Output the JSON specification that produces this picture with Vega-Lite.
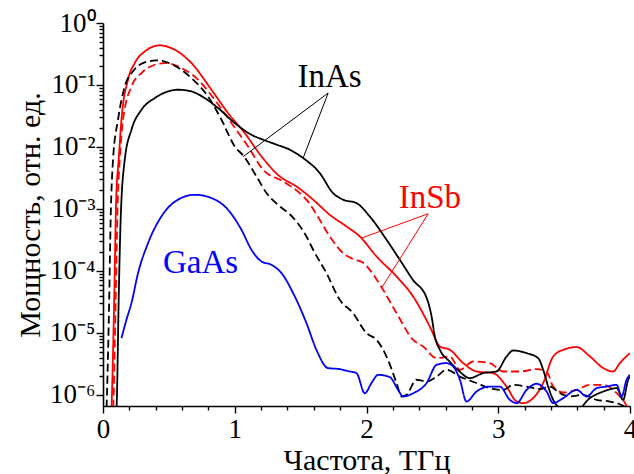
{
  "$schema": "https://vega.github.io/schema/vega-lite/v6.json",
  "width": 527,
  "height": 383,
  "autosize": {"type": "none"},
  "padding": {"left": 103, "top": 23, "right": 4, "bottom": 68},
  "background": "white",
  "config": {
    "view": {"stroke": null},
    "axis": {
      "grid": false, "domainColor": "#000", "domainWidth": 1.6, "tickColor": "#000", "tickWidth": 1.4,
      "labelColor": "#000", "titleColor": "#000", "labelFont": "Liberation Serif", "titleFont": "Liberation Serif",
      "labelFontSize": 27, "titleFontSize": 30, "titleFontWeight": "normal", "labelFlush": false
    },
    "text": {"font": "Liberation Serif"}
  },
  "datasets": {
    "curves": [
      {"m":"InSb","k":"solid","x":0.062,"y":4.0e-7},{"m":"InSb","k":"solid","x":0.068,"y":1e-6},{"m":"InSb","k":"solid","x":0.085,"y":3.39e-5},{"m":"InSb","k":"solid","x":0.100,"y":1.41e-3},{"m":"InSb","k":"solid","x":0.119,"y":6.21e-3},{"m":"InSb","k":"solid","x":0.140,"y":2.75e-2},{"m":"InSb","k":"solid","x":0.190,"y":1.22e-1},{"m":"InSb","k":"solid","x":0.241,"y":2.26e-1},{"m":"InSb","k":"solid","x":0.317,"y":3.48e-1},{"m":"InSb","k":"solid","x":0.431,"y":4.35e-1},{"m":"InSb","k":"solid","x":0.544,"y":3.71e-1},{"m":"InSb","k":"solid","x":0.671,"y":2.26e-1},{"m":"InSb","k":"solid","x":0.823,"y":8.38e-2},{"m":"InSb","k":"solid","x":0.949,"y":3.52e-2},{"m":"InSb","k":"solid","x":1.076,"y":1.67e-2},{"m":"InSb","k":"solid","x":1.203,"y":7.03e-3},{"m":"InSb","k":"solid","x":1.342,"y":3.34e-3},{"m":"InSb","k":"solid","x":1.469,"y":2.30e-3},{"m":"InSb","k":"solid","x":1.595,"y":1.41e-3},{"m":"InSb","k":"solid","x":1.721,"y":8.05e-4},{"m":"InSb","k":"solid","x":1.848,"y":5.21e-4},{"m":"InSb","k":"solid","x":1.949,"y":3.59e-4},{"m":"InSb","k":"solid","x":2.076,"y":1.71e-4},{"m":"InSb","k":"solid","x":2.228,"y":8.13e-5},{"m":"InSb","k":"solid","x":2.354,"y":3.86e-5},{"m":"InSb","k":"solid","x":2.481,"y":1.26e-5},{"m":"InSb","k":"solid","x":2.557,"y":6.03e-6},{"m":"InSb","k":"solid","x":2.633,"y":5.32e-6},{"m":"InSb","k":"solid","x":2.734,"y":3.25e-6},{"m":"InSb","k":"solid","x":2.835,"y":2.38e-6},{"m":"InSb","k":"solid","x":2.961,"y":2.24e-6},{"m":"InSb","k":"solid","x":3.063,"y":1.36e-6},{"m":"InSb","k":"solid","x":3.139,"y":7.80e-7},{"m":"InSb","k":"solid","x":3.189,"y":7.35e-7},{"m":"InSb","k":"solid","x":3.265,"y":8.85e-7},{"m":"InSb","k":"solid","x":3.341,"y":1.55e-6},{"m":"InSb","k":"solid","x":3.417,"y":4.15e-6},{"m":"InSb","k":"solid","x":3.493,"y":5.32e-6},{"m":"InSb","k":"solid","x":3.595,"y":5.89e-6},{"m":"InSb","k":"solid","x":3.696,"y":4.15e-6},{"m":"InSb","k":"solid","x":3.797,"y":2.70e-6},{"m":"InSb","k":"solid","x":3.872,"y":2.38e-6},{"m":"InSb","k":"solid","x":3.923,"y":3.25e-6},{"m":"InSb","k":"solid","x":3.999,"y":4.71e-6},

      {"m":"InSb","k":"dashed","x":0.074,"y":4e-7},{"m":"InSb","k":"dashed","x":0.081,"y":1e-6},{"m":"InSb","k":"dashed","x":0.096,"y":3.39e-5},{"m":"InSb","k":"dashed","x":0.112,"y":1.41e-3},{"m":"InSb","k":"dashed","x":0.127,"y":6.21e-3},{"m":"InSb","k":"dashed","x":0.152,"y":2.75e-2},{"m":"InSb","k":"dashed","x":0.216,"y":9.48e-2},{"m":"InSb","k":"dashed","x":0.292,"y":1.56e-1},{"m":"InSb","k":"dashed","x":0.393,"y":2.12e-1},{"m":"InSb","k":"dashed","x":0.468,"y":2.26e-1},{"m":"InSb","k":"dashed","x":0.595,"y":1.88e-1},{"m":"InSb","k":"dashed","x":0.721,"y":1.22e-1},{"m":"InSb","k":"dashed","x":0.848,"y":5.78e-2},{"m":"InSb","k":"dashed","x":0.975,"y":2.43e-2},{"m":"InSb","k":"dashed","x":1.101,"y":1.02e-2},{"m":"InSb","k":"dashed","x":1.215,"y":4.29e-3},{"m":"InSb","k":"dashed","x":1.367,"y":2.77e-3},{"m":"InSb","k":"dashed","x":1.494,"y":1.80e-3},{"m":"InSb","k":"dashed","x":1.544,"y":1.41e-3},{"m":"InSb","k":"dashed","x":1.645,"y":6.68e-4},{"m":"InSb","k":"dashed","x":1.721,"y":3.59e-4},{"m":"InSb","k":"dashed","x":1.822,"y":1.94e-4},{"m":"InSb","k":"dashed","x":1.898,"y":1.55e-4},{"m":"InSb","k":"dashed","x":1.974,"y":1.35e-4},{"m":"InSb","k":"dashed","x":2.025,"y":1.04e-4},{"m":"InSb","k":"dashed","x":2.126,"y":4.95e-5},{"m":"InSb","k":"dashed","x":2.228,"y":2.08e-5},{"m":"InSb","k":"dashed","x":2.354,"y":7.73e-6},{"m":"InSb","k":"dashed","x":2.430,"y":6.03e-6},{"m":"InSb","k":"dashed","x":2.532,"y":3.91e-6},{"m":"InSb","k":"dashed","x":2.633,"y":4.15e-6},{"m":"InSb","k":"dashed","x":2.709,"y":2.54e-6},{"m":"InSb","k":"dashed","x":2.810,"y":3.45e-6},{"m":"InSb","k":"dashed","x":2.936,"y":3.25e-6},{"m":"InSb","k":"dashed","x":3.037,"y":2.38e-6},{"m":"InSb","k":"dashed","x":3.164,"y":2.38e-6},{"m":"InSb","k":"dashed","x":3.291,"y":2.60e-6},{"m":"InSb","k":"dashed","x":3.367,"y":2.38e-6},{"m":"InSb","k":"dashed","x":3.417,"y":1.36e-6},{"m":"InSb","k":"dashed","x":3.493,"y":1.09e-6},{"m":"InSb","k":"dashed","x":3.595,"y":1.20e-6},{"m":"InSb","k":"dashed","x":3.696,"y":1.45e-6},{"m":"InSb","k":"dashed","x":3.797,"y":1.45e-6},{"m":"InSb","k":"dashed","x":3.872,"y":1.20e-6},{"m":"InSb","k":"dashed","x":3.923,"y":9.39e-7},{"m":"InSb","k":"dashed","x":3.974,"y":6.64e-7},{"m":"InSb","k":"dashed","x":3.999,"y":4.8e-7},

      {"m":"InAs","k":"dashed","x":0.024,"y":4e-7},{"m":"InAs","k":"dashed","x":0.030,"y":1e-6},{"m":"InAs","k":"dashed","x":0.047,"y":3.39e-5},{"m":"InAs","k":"dashed","x":0.058,"y":6.68e-4},{"m":"InAs","k":"dashed","x":0.076,"y":6.21e-3},{"m":"InAs","k":"dashed","x":0.114,"y":2.75e-2},{"m":"InAs","k":"dashed","x":0.165,"y":9.48e-2},{"m":"InAs","k":"dashed","x":0.228,"y":1.66e-1},{"m":"InAs","k":"dashed","x":0.317,"y":2.31e-1},{"m":"InAs","k":"dashed","x":0.405,"y":2.49e-1},{"m":"InAs","k":"dashed","x":0.519,"y":2.18e-1},{"m":"InAs","k":"dashed","x":0.671,"y":1.29e-1},{"m":"InAs","k":"dashed","x":0.797,"y":6.53e-2},{"m":"InAs","k":"dashed","x":0.899,"y":2.75e-2},{"m":"InAs","k":"dashed","x":1.0,"y":1.02e-2},{"m":"InAs","k":"dashed","x":1.07,"y":7.03e-3},{"m":"InAs","k":"dashed","x":1.165,"y":3.34e-3},{"m":"InAs","k":"dashed","x":1.241,"y":1.80e-3},{"m":"InAs","k":"dashed","x":1.342,"y":1.10e-3},{"m":"InAs","k":"dashed","x":1.418,"y":8.2e-4},{"m":"InAs","k":"dashed","x":1.544,"y":3.59e-4},{"m":"InAs","k":"dashed","x":1.595,"y":2.19e-4},{"m":"InAs","k":"dashed","x":1.696,"y":9.21e-5},{"m":"InAs","k":"dashed","x":1.797,"y":3.41e-5},{"m":"InAs","k":"dashed","x":1.898,"y":2.08e-5},{"m":"InAs","k":"dashed","x":2.0,"y":9.9e-6},{"m":"InAs","k":"dashed","x":2.076,"y":7.73e-6},{"m":"InAs","k":"dashed","x":2.152,"y":4.15e-6},{"m":"InAs","k":"dashed","x":2.228,"y":1.55e-6},{"m":"InAs","k":"dashed","x":2.266,"y":9.39e-7},{"m":"InAs","k":"dashed","x":2.304,"y":1e-6},{"m":"InAs","k":"dashed","x":2.380,"y":1.75e-6},{"m":"InAs","k":"dashed","x":2.456,"y":1.64e-6},{"m":"InAs","k":"dashed","x":2.532,"y":1.97e-6},{"m":"InAs","k":"dashed","x":2.607,"y":2.54e-6},{"m":"InAs","k":"dashed","x":2.709,"y":1.97e-6},{"m":"InAs","k":"dashed","x":2.835,"y":1.55e-6},{"m":"InAs","k":"dashed","x":2.936,"y":1.28e-6},{"m":"InAs","k":"dashed","x":3.037,"y":1.20e-6},{"m":"InAs","k":"dashed","x":3.113,"y":1.45e-6},{"m":"InAs","k":"dashed","x":3.215,"y":1.36e-6},{"m":"InAs","k":"dashed","x":3.316,"y":1.24e-6},{"m":"InAs","k":"dashed","x":3.392,"y":1.36e-6},{"m":"InAs","k":"dashed","x":3.468,"y":1.06e-6},{"m":"InAs","k":"dashed","x":3.544,"y":9.39e-7},{"m":"InAs","k":"dashed","x":3.645,"y":1e-6},{"m":"InAs","k":"dashed","x":3.746,"y":8.30e-7},{"m":"InAs","k":"dashed","x":3.847,"y":7.80e-7},{"m":"InAs","k":"dashed","x":3.948,"y":6.64e-7},{"m":"InAs","k":"dashed","x":3.999,"y":5.3e-7},

      {"m":"InAs","k":"solid","x":0.100,"y":4e-7},{"m":"InAs","k":"solid","x":0.106,"y":1e-6},{"m":"InAs","k":"solid","x":0.119,"y":3.39e-5},{"m":"InAs","k":"solid","x":0.134,"y":6.68e-4},{"m":"InAs","k":"solid","x":0.165,"y":6.21e-3},{"m":"InAs","k":"solid","x":0.216,"y":1.90e-2},{"m":"InAs","k":"solid","x":0.292,"y":3.98e-2},{"m":"InAs","k":"solid","x":0.393,"y":6.15e-2},{"m":"InAs","k":"solid","x":0.494,"y":7.87e-2},{"m":"InAs","k":"solid","x":0.569,"y":8.38e-2},{"m":"InAs","k":"solid","x":0.671,"y":7.87e-2},{"m":"InAs","k":"solid","x":0.772,"y":6.15e-2},{"m":"InAs","k":"solid","x":0.873,"y":4.25e-2},{"m":"InAs","k":"solid","x":1.0,"y":2.43e-2},{"m":"InAs","k":"solid","x":1.127,"y":1.57e-2},{"m":"InAs","k":"solid","x":1.215,"y":1.31e-2},{"m":"InAs","k":"solid","x":1.317,"y":1.09e-2},{"m":"InAs","k":"solid","x":1.418,"y":9.02e-3},{"m":"InAs","k":"solid","x":1.519,"y":6.62e-3},{"m":"InAs","k":"solid","x":1.645,"y":3.79e-3},{"m":"InAs","k":"solid","x":1.746,"y":1.80e-3},{"m":"InAs","k":"solid","x":1.822,"y":1.41e-3},{"m":"InAs","k":"solid","x":1.924,"y":1.24e-3},{"m":"InAs","k":"solid","x":2.025,"y":7.55e-4},{"m":"InAs","k":"solid","x":2.152,"y":3.18e-4},{"m":"InAs","k":"solid","x":2.253,"y":1.51e-4},{"m":"InAs","k":"solid","x":2.352,"y":7.18e-5},{"m":"InAs","k":"solid","x":2.456,"y":3.68e-5},{"m":"InAs","k":"solid","x":2.494,"y":1.84e-5},{"m":"InAs","k":"solid","x":2.519,"y":8.73e-6},{"m":"InAs","k":"solid","x":2.557,"y":5.32e-6},{"m":"InAs","k":"solid","x":2.633,"y":3.41e-6},{"m":"InAs","k":"solid","x":2.709,"y":2.35e-6},{"m":"InAs","k":"solid","x":2.784,"y":1.86e-6},{"m":"InAs","k":"solid","x":2.885,"y":2.24e-6},{"m":"InAs","k":"solid","x":2.987,"y":2.38e-6},{"m":"InAs","k":"solid","x":3.063,"y":4.15e-6},{"m":"InAs","k":"solid","x":3.113,"y":5.19e-6},{"m":"InAs","k":"solid","x":3.215,"y":4.71e-6},{"m":"InAs","k":"solid","x":3.303,"y":3.91e-6},{"m":"InAs","k":"solid","x":3.341,"y":2.54e-6},{"m":"InAs","k":"solid","x":3.379,"y":1.36e-6},{"m":"InAs","k":"solid","x":3.417,"y":8.30e-7},{"m":"InAs","k":"solid","x":3.493,"y":5.7e-7},{"m":"InAs","k":"solid","x":3.582,"y":5.3e-7},{"m":"InAs","k":"solid","x":3.696,"y":8.85e-7},{"m":"InAs","k":"solid","x":3.797,"y":1.13e-6},{"m":"InAs","k":"solid","x":3.899,"y":1.28e-6},{"m":"InAs","k":"solid","x":3.948,"y":8.30e-7},{"m":"InAs","k":"solid","x":3.986,"y":1.75e-6},{"m":"InAs","k":"solid","x":3.999,"y":1.97e-6},

      {"m":"GaAs","k":"solid","x":0.140,"y":8.22e-6},{"m":"GaAs","k":"solid","x":0.178,"y":1.63e-5},{"m":"GaAs","k":"solid","x":0.216,"y":3.02e-5},{"m":"GaAs","k":"solid","x":0.266,"y":9.21e-5},{"m":"GaAs","k":"solid","x":0.342,"y":2.81e-4},{"m":"GaAs","k":"solid","x":0.443,"y":7.55e-4},{"m":"GaAs","k":"solid","x":0.569,"y":1.41e-3},{"m":"GaAs","k":"solid","x":0.696,"y":1.69e-3},{"m":"GaAs","k":"solid","x":0.823,"y":1.50e-3},{"m":"GaAs","k":"solid","x":0.949,"y":9.68e-4},{"m":"GaAs","k":"solid","x":1.051,"y":4.60e-4},{"m":"GaAs","k":"solid","x":1.127,"y":2.19e-4},{"m":"GaAs","k":"solid","x":1.203,"y":1.42e-4},{"m":"GaAs","k":"solid","x":1.279,"y":1.25e-4},{"m":"GaAs","k":"solid","x":1.355,"y":9.21e-5},{"m":"GaAs","k":"solid","x":1.443,"y":4.39e-5},{"m":"GaAs","k":"solid","x":1.544,"y":1.44e-5},{"m":"GaAs","k":"solid","x":1.620,"y":5.32e-6},{"m":"GaAs","k":"solid","x":1.708,"y":2.70e-6},{"m":"GaAs","k":"solid","x":1.797,"y":2.60e-6},{"m":"GaAs","k":"solid","x":1.873,"y":2.38e-6},{"m":"GaAs","k":"solid","x":1.924,"y":2.24e-6},{"m":"GaAs","k":"solid","x":1.987,"y":1.06e-6},{"m":"GaAs","k":"solid","x":2.038,"y":1.55e-6},{"m":"GaAs","k":"solid","x":2.088,"y":2.10e-6},{"m":"GaAs","k":"solid","x":2.177,"y":1.93e-6},{"m":"GaAs","k":"solid","x":2.240,"y":1.20e-6},{"m":"GaAs","k":"solid","x":2.278,"y":9.39e-7},{"m":"GaAs","k":"solid","x":2.354,"y":1.06e-6},{"m":"GaAs","k":"solid","x":2.456,"y":1.55e-6},{"m":"GaAs","k":"solid","x":2.532,"y":3.05e-6},{"m":"GaAs","k":"solid","x":2.607,"y":3.25e-6},{"m":"GaAs","k":"solid","x":2.658,"y":2.86e-6},{"m":"GaAs","k":"solid","x":2.709,"y":1.75e-6},{"m":"GaAs","k":"solid","x":2.759,"y":7.80e-7},{"m":"GaAs","k":"solid","x":2.835,"y":1.13e-6},{"m":"GaAs","k":"solid","x":2.936,"y":1.36e-6},{"m":"GaAs","k":"solid","x":3.012,"y":1.36e-6},{"m":"GaAs","k":"solid","x":3.088,"y":8.30e-7},{"m":"GaAs","k":"solid","x":3.139,"y":7.35e-7},{"m":"GaAs","k":"solid","x":3.215,"y":1.20e-6},{"m":"GaAs","k":"solid","x":3.291,"y":1.51e-6},{"m":"GaAs","k":"solid","x":3.367,"y":1.13e-6},{"m":"GaAs","k":"solid","x":3.417,"y":7.35e-7},{"m":"GaAs","k":"solid","x":3.493,"y":8.85e-7},{"m":"GaAs","k":"solid","x":3.595,"y":1.20e-6},{"m":"GaAs","k":"solid","x":3.671,"y":9.39e-7},{"m":"GaAs","k":"solid","x":3.746,"y":1.28e-6},{"m":"GaAs","k":"solid","x":3.822,"y":1.36e-6},{"m":"GaAs","k":"solid","x":3.899,"y":1.45e-6},{"m":"GaAs","k":"solid","x":3.936,"y":9.39e-7},{"m":"GaAs","k":"solid","x":3.974,"y":1.75e-6},{"m":"GaAs","k":"solid","x":3.999,"y":2.10e-6}
    ],
    "labels": [
      {"m":"InAs","x":1.72,"y":0.094},
      {"m":"InSb","x":2.481,"y":1.03e-3},
      {"m":"GaAs","x":0.74,"y":9.21e-5}
    ],
    "pointers": [
      {"m":"InAs","x":1.709,"y":0.0741,"x2":1.063,"y2":6.95e-3},
      {"m":"InAs","x":1.709,"y":0.0741,"x2":1.519,"y2":6.62e-3},
      {"m":"InSb","x":2.468,"y":8.35e-4,"x2":1.962,"y2":3.38e-4},
      {"m":"InSb","x":2.468,"y":8.35e-4,"x2":2.114,"y2":5.27e-5}
    ]
  },
  "layer": [
    {
      "data": {"name": "curves"},
      "mark": {"type": "line", "clip": true, "strokeWidth": 1.8, "interpolate": "monotone"},
      "encoding": {
        "x": {
          "field": "x", "type": "quantitative",
          "scale": {"domain": [0, 4], "nice": false},
          "axis": {
            "title": "Частота, ТГц",
            "values": [0,0.2,0.4,0.6,0.8,1,1.2,1.4,1.6,1.8,2,2.2,2.4,2.6,2.8,3,3.2,3.4,3.6,3.8,4],
            "tickCount": 200,
            "labelExpr": "abs(datum.value - round(datum.value)) < 0.01 ? '' + round(datum.value) : ''",
            "tickSize": {"condition": {"test": "abs(datum.value - round(datum.value)) < 0.01", "value": 7}, "value": 4},
            "labelOverlap": false,
            "labelSeparation": 0,
            "labelPadding": 3,
            "titlePadding": 3
          }
        },
        "y": {
          "field": "y", "type": "quantitative",
          "scale": {"type": "log", "domain": [6.6e-7, 1], "nice": false},
          "axis": {
            "title": "Мощность, отн. ед.",
            "values": [1,0.9,0.8,0.7,0.6,0.5,0.4,0.3,0.2,0.1,0.09,0.08,0.07,0.06,0.05,0.04,0.03,0.02,0.01,0.009,0.008,0.007,0.006,0.005,0.004,0.003,0.002,0.001,9e-4,8e-4,7e-4,6e-4,5e-4,4e-4,3e-4,2e-4,1e-4,9e-5,8e-5,7e-5,6e-5,5e-5,4e-5,3e-5,2e-5,1e-5,9e-6,8e-6,7e-6,6e-6,5e-6,4e-6,3e-6,2e-6,1e-6],
            "tickCount": 200,
            "labelExpr": "abs(log(datum.value)/LN10 - round(log(datum.value)/LN10)) < 0.001 ? '10' + (round(log(datum.value)/LN10) < 0 ? '⁻' : '') + ['⁰','¹','²','³','⁴','⁵','⁶','⁷'][abs(round(log(datum.value)/LN10))] : ''",
            "tickSize": {"condition": {"test": "abs(log(datum.value)/LN10 - round(log(datum.value)/LN10)) < 0.001", "value": 7}, "value": 4},
            "labelOverlap": false,
            "labelPadding": 1,
            "titlePadding": 4
          }
        },
        "color": {"field": "m", "type": "nominal", "scale": {"domain": ["InAs", "InSb", "GaAs"], "range": ["#000000", "#ff0000", "#0000ff"]}, "legend": null},
        "strokeDash": {"field": "k", "type": "nominal", "scale": {"domain": ["solid", "dashed"], "range": [[1, 0], [8, 4]]}, "legend": null}
      }
    },
    {
      "data": {"name": "pointers"},
      "mark": {"type": "rule", "strokeWidth": 1},
      "encoding": {
        "x": {"field": "x", "type": "quantitative"},
        "y": {"field": "y", "type": "quantitative"},
        "x2": {"field": "x2"},
        "y2": {"field": "y2"},
        "color": {"field": "m", "type": "nominal", "legend": null}
      }
    },
    {
      "data": {"name": "labels"},
      "mark": {"type": "text", "fontSize": 33, "baseline": "alphabetic", "align": "center"},
      "encoding": {
        "x": {"field": "x", "type": "quantitative"},
        "y": {"field": "y", "type": "quantitative"},
        "text": {"field": "m"},
        "color": {"field": "m", "type": "nominal", "legend": null}
      }
    }
  ]
}
